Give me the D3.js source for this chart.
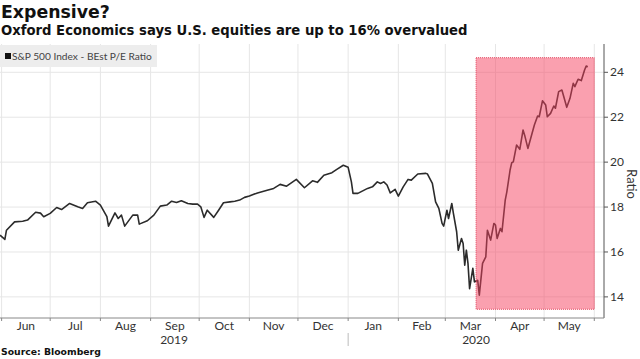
<!DOCTYPE html>
<html><head><meta charset="utf-8">
<script src="https://cdn.jsdelivr.net/npm/d3@7"></script>
<style>body{margin:0;background:#fff;} svg{display:block;}</style>
</head><body><svg id="c" width="640" height="359"></svg>
<script>
const titleText = "Expensive?";
const subtitleText = "Oxford Economics says U.S. equities are up to 16% overvalued";
const legendLabel = "S&P 500 Index - BEst P/E Ratio";
const yAxisLabel = "Ratio";
const sourceText = "Source: Bloomberg";

const dates = ["2019-05-31","2019-06-03","2019-06-04","2019-06-09","2019-06-14","2019-06-17","2019-06-22","2019-06-25","2019-06-27",
"2019-07-01","2019-07-05","2019-07-08","2019-07-13","2019-07-18","2019-07-21","2019-07-24","2019-07-29",
"2019-08-01","2019-08-05","2019-08-06","2019-08-10","2019-08-12","2019-08-14","2019-08-16","2019-08-21","2019-08-24","2019-08-25","2019-08-30",
"2019-09-03","2019-09-07","2019-09-11","2019-09-14","2019-09-17","2019-09-20","2019-09-24","2019-09-27","2019-09-30",
"2019-10-02","2019-10-04","2019-10-06","2019-10-10","2019-10-13","2019-10-16","2019-10-20","2019-10-23","2019-10-26","2019-10-29",
"2019-11-01","2019-11-06","2019-11-12","2019-11-16","2019-11-20","2019-11-24","2019-11-30",
"2019-12-05","2019-12-10","2019-12-13","2019-12-17","2019-12-22","2019-12-25","2019-12-29",
"2020-01-01","2020-01-03","2020-01-04","2020-01-07","2020-01-10","2020-01-13","2020-01-16","2020-01-19","2020-01-21","2020-01-23","2020-01-25","2020-01-27","2020-01-30",
"2020-02-01","2020-02-04","2020-02-07","2020-02-09","2020-02-13","2020-02-18","2020-02-19","2020-02-22","2020-02-24","2020-02-26","2020-02-28","2020-02-29",
"2020-03-02","2020-03-03","2020-03-05","2020-03-06","2020-03-08","2020-03-09","2020-03-11","2020-03-12","2020-03-13","2020-03-14","2020-03-15","2020-03-16","2020-03-18","2020-03-19","2020-03-21","2020-03-22","2020-03-24","2020-03-26","2020-03-27","2020-03-29","2020-03-31",
"2020-04-01","2020-04-02","2020-04-04","2020-04-05","2020-04-07","2020-04-08","2020-04-10","2020-04-11","2020-04-12","2020-04-14","2020-04-16","2020-04-18","2020-04-19","2020-04-21","2020-04-23","2020-04-25","2020-04-27","2020-04-28","2020-04-30",
"2020-05-02","2020-05-03","2020-05-05","2020-05-07","2020-05-08","2020-05-10","2020-05-12","2020-05-15","2020-05-17","2020-05-19","2020-05-20","2020-05-22","2020-05-24","2020-05-26","2020-05-27","2020-05-28"];

const ratios = [16.75,16.56,16.97,17.34,17.37,17.42,17.77,17.73,17.57,
17.72,17.98,17.89,18.16,18.01,17.94,18.19,18.26,
18.09,17.57,17.15,17.74,17.49,17.64,17.15,17.64,17.64,17.24,17.39,
17.64,18.04,18.09,18.26,18.20,18.28,18.16,18.13,18.13,
18.01,17.54,17.86,17.54,17.86,18.19,18.23,18.26,18.31,18.43,
18.49,18.63,18.75,18.83,19.01,18.93,19.23,
18.86,19.17,19.10,19.42,19.53,19.68,19.86,
19.77,19.12,18.61,18.61,18.72,18.83,18.90,19.12,19.05,19.12,18.98,18.63,18.79,
18.49,18.90,19.23,19.20,19.47,19.50,19.47,19.05,18.23,17.94,17.27,17.15,
17.86,17.49,18.16,17.72,16.90,16.08,16.60,16.38,15.41,16.08,15.49,14.37,15.27,14.67,14.74,14.08,15.49,15.78,16.97,16.53,17.27,
17.20,16.60,17.05,16.90,18.31,18.68,19.65,19.97,20.01,20.76,20.57,21.43,21.20,20.61,21.13,21.65,22.05,22.02,22.73,
22.54,22.02,22.17,22.50,22.40,23.14,23.21,22.44,22.84,23.51,23.36,23.69,23.63,24.10,24.28,24.25];

const monthStarts = ["2019-06-01","2019-07-01","2019-08-01","2019-09-01","2019-10-01","2019-11-01","2019-12-01","2020-01-01","2020-02-01","2020-03-01","2020-04-01","2020-05-01","2020-06-01"];
const monthLabels = ["Jun","Jul","Aug","Sep","Oct","Nov","Dec","Jan","Feb","Mar","Apr","May"];
const yearLabels = ["2019","2020"];
const yTicks = [14,16,18,20,22,24];

const highlightStart = "2020-03-20", highlightEnd = "2020-06-01";
const highlightLow = 13.45, highlightHigh = 24.65;

const parse = d3.timeParse("%Y-%m-%d");
const svg = d3.select("#c");
const plot = {left: 0, right: 604, top: 44, bottom: 318};

const x = d3.scaleTime().domain([parse("2019-05-31"), parse("2020-06-07")]).range([plot.left, plot.right]);
const y = d3.scaleLinear().domain([13.06, 25.26]).range([plot.bottom, plot.top]);

function fit(sel, w){
  const l = sel.node().getComputedTextLength();
  const fs = parseFloat(sel.attr("font-size"));
  sel.attr("font-size", fs * w / l);
}

// gridlines
const ms = monthStarts.map(parse);
svg.append("g").selectAll("line").data(ms).join("line")
  .attr("x1", d => x(d)).attr("x2", d => x(d))
  .attr("y1", plot.top).attr("y2", plot.bottom)
  .attr("stroke", "#e6e6e6").attr("stroke-width", 1);
svg.append("g").selectAll("line").data(yTicks).join("line")
  .attr("x1", plot.left).attr("x2", plot.right)
  .attr("y1", d => y(d)).attr("y2", d => y(d))
  .attr("stroke", "#e6e6e6").attr("stroke-width", 1);

// line
const data = dates.map((d, i) => ({date: parse(d), v: ratios[i]}));
svg.append("path").datum(data)
  .attr("fill", "none").attr("stroke", "#2b2b2b").attr("stroke-width", 1.6)
  .attr("stroke-linejoin", "round")
  .attr("d", d3.line().x(d => x(d.date)).y(d => y(d.v)));

// highlight
const hx0 = x(parse(highlightStart)), hx1 = x(parse(highlightEnd));
svg.append("rect")
  .attr("x", hx0).attr("y", y(highlightHigh))
  .attr("width", hx1 - hx0).attr("height", y(highlightLow) - y(highlightHigh))
  .attr("fill", "rgb(245,65,95)").attr("fill-opacity", 0.5)
  .attr("stroke", "rgb(225,70,95)").attr("stroke-width", 1).attr("stroke-dasharray", "1,1");

// legend
svg.append("rect").attr("x", 0).attr("y", 45).attr("width", 157).attr("height", 22).attr("fill", "#ededed");
svg.append("rect").attr("x", 5).attr("y", 53).attr("width", 6).attr("height", 6).attr("fill", "#111");
const lg = svg.append("text").attr("x", 12).attr("y", 60).attr("font-family", "Lato, sans-serif")
  .attr("font-size", 10).attr("fill", "#444").text(legendLabel);
fit(lg, 140);

// right axis
svg.append("line").attr("x1", plot.right).attr("x2", plot.right).attr("y1", plot.top).attr("y2", plot.bottom)
  .attr("stroke", "#555").attr("stroke-width", 1);
const yt = svg.append("g");
yt.selectAll("line").data(yTicks).join("line")
  .attr("x1", plot.right).attr("x2", plot.right + 4)
  .attr("y1", d => y(d)).attr("y2", d => y(d)).attr("stroke", "#555");
yt.selectAll("text").data(yTicks).join("text")
  .attr("x", plot.right + 6).attr("y", d => y(d)).attr("dy", "0.35em")
  .attr("font-family", "Lato, sans-serif").attr("font-size", 12).attr("fill", "#333")
  .text(d => d);
svg.append("text").attr("transform", `translate(627,${(plot.top + plot.bottom) / 2 + 3}) rotate(90)`)
  .attr("text-anchor", "middle").attr("font-family", "Lato, sans-serif").attr("font-size", 13)
  .attr("fill", "#333").text(yAxisLabel);

// bottom axis
svg.append("line").attr("x1", plot.left).attr("x2", plot.right).attr("y1", plot.bottom).attr("y2", plot.bottom)
  .attr("stroke", "#888").attr("stroke-width", 1);
svg.append("g").selectAll("line").data(ms).join("line")
  .attr("x1", d => x(d)).attr("x2", d => x(d))
  .attr("y1", plot.bottom).attr("y2", plot.bottom + 3).attr("stroke", "#888");
svg.append("g").selectAll("text").data(monthLabels).join("text")
  .attr("x", (d, i) => (x(ms[i]) + x(ms[i + 1])) / 2).attr("y", 330)
  .attr("text-anchor", "middle").attr("font-family", "Lato, sans-serif").attr("font-size", 12)
  .attr("fill", "#333").text(d => d);
const yearBoundary = x(parse("2020-01-01"));
const yearCenters = [(plot.left + yearBoundary) / 2, (yearBoundary + plot.right) / 2];
svg.append("g").selectAll("text").data(yearLabels).join("text")
  .attr("x", (d, i) => yearCenters[i]).attr("y", 344)
  .attr("text-anchor", "middle").attr("font-family", "Lato, sans-serif").attr("font-size", 12)
  .attr("fill", "#333").text(d => d);
svg.append("line").attr("x1", yearBoundary).attr("x2", yearBoundary).attr("y1", 333).attr("y2", 346)
  .attr("stroke", "#bbb");

// titles
const t1 = svg.append("text").attr("x", 1).attr("y", 18).attr("font-family", "DejaVu Sans, sans-serif")
  .attr("font-weight", "bold").attr("font-size", 17).attr("fill", "#111").text(titleText);
fit(t1, 109);
const t2 = svg.append("text").attr("x", 1).attr("y", 35).attr("font-family", "DejaVu Sans, sans-serif")
  .attr("font-weight", "bold").attr("font-size", 12).attr("fill", "#111").text(subtitleText);
fit(t2, 467);
const src = svg.append("text").attr("x", 1).attr("y", 355).attr("font-family", "DejaVu Sans, sans-serif")
  .attr("font-weight", "bold").attr("font-size", 9).attr("fill", "#111").text(sourceText);
fit(src, 100);
</script></body></html>
